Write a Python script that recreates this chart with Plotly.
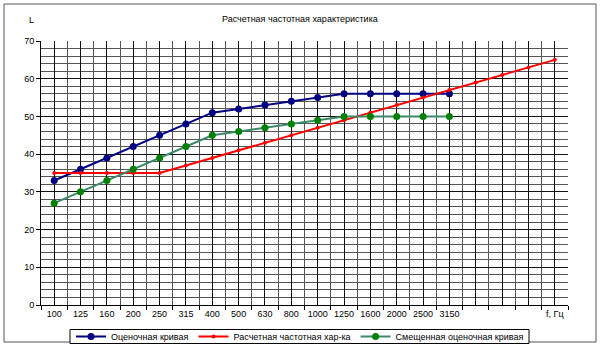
import plotly.graph_objects as go

categories = ["100", "125", "160", "200", "250", "315", "400", "500", "630", "800",
              "1000", "1250", "1600", "2000", "2500", "3150", "", "", "", "f, Гц"]
blue_vals = [33, 36, 39, 42, 45, 48, 51, 52, 53, 54, 55, 56, 56, 56, 56, 56]
red_vals = [35, 35, 35, 35, 35, 37, 39, 41, 43, 45, 47, 49, 51, 53, 55, 57, 59, 61, 63, 65]
green_vals = [27, 30, 33, 36, 39, 42, 45, 46, 47, 48, 49, 50, 50, 50, 50, 50]
names = ["Оценочная кривая", "Расчетная частотная хар-ка", "Смещенная оценочная кривая"]
title = "Расчетная частотная характеристика"

FONT = "Liberation Sans, Arial, sans-serif"
idx = list(range(len(categories)))

fig = go.Figure()
fig.add_trace(go.Scatter(x=idx[:len(blue_vals)], y=blue_vals, name=names[0], mode="lines+markers",
                         line=dict(color="#000080", width=2), marker=dict(color="#000080", size=7)))
fig.add_trace(go.Scatter(x=idx[:len(red_vals)], y=red_vals, name=names[1], mode="lines+markers",
                         line=dict(color="#FF0000", width=2), marker=dict(color="#FF0000", size=4)))
fig.add_trace(go.Scatter(x=idx[:len(green_vals)], y=green_vals, name=names[2], mode="lines+markers",
                         line=dict(color="#3a8a6a", width=2), marker=dict(color="#008000", size=7)))

L, R, T, B = 41, 32, 41, 44
W, H = 600, 349
pw, ph = W - L - R, H - T - B

def px(x):
    return (x - L) / pw

def py(y):
    return (H - B - y) / ph

fig.update_layout(
    width=W, height=H,
    margin=dict(l=L, r=R, t=T, b=B, pad=0, autoexpand=False),
    paper_bgcolor="white", plot_bgcolor="white",
    font=dict(family=FONT, size=9, color="#000000"),
    showlegend=True,
    legend=dict(orientation="h", x=0.5, xref="container", xanchor="center",
                y=1 - 336.5 / H, yref="container", yanchor="middle",
                borderwidth=0, font=dict(size=9, family=FONT),
                itemwidth=30, tracegroupgap=0, traceorder="normal",
                bgcolor="rgba(0,0,0,0)"),
    annotations=[
        dict(text=title, x=px(300), y=py(19), xref="paper", yref="paper", showarrow=False,
             xanchor="center", yanchor="middle", font=dict(size=9, family=FONT)),
        dict(text="L", x=px(31), y=py(20), xref="paper", yref="paper", showarrow=False,
             xanchor="center", yanchor="middle", font=dict(size=9, family=FONT)),
    ],
    shapes=[
        dict(type="rect", xref="paper", yref="paper", x0=px(4), x1=px(596), y0=py(342), y1=py(4),
             line=dict(color="#555555", width=1), layer="below"),
        dict(type="rect", xref="paper", yref="paper", x0=px(70), x1=px(529), y0=py(343.5), y1=py(329.5),
             line=dict(color="#000000", width=1), fillcolor="white", layer="below"),
    ],
)

fig.update_xaxes(
    range=[-0.5, len(categories) - 0.5],
    tickmode="array", tickvals=idx, ticktext=categories,
    ticks="", showgrid=True, gridcolor="#111111", gridwidth=1,
    showline=True, linecolor="#000000", linewidth=1, zeroline=False,
    tickfont=dict(size=9, family=FONT, color="#000000"),
    minor=dict(tickmode="linear", tick0=-0.5, dtick=1, showgrid=True, gridcolor="#555555",
               gridwidth=1, ticks="outside", ticklen=4, tickcolor="#000000"),
    fixedrange=True, automargin=False,
)
fig.update_yaxes(
    range=[0, 70], tickmode="linear", tick0=0, dtick=10,
    ticks="outside", ticklen=4, tickcolor="#000000",
    showgrid=True, gridcolor="#111111", gridwidth=1,
    showline=True, linecolor="#000000", linewidth=1, zeroline=False,
    tickfont=dict(size=9, family=FONT, color="#000000"),
    minor=dict(tickmode="linear", tick0=0, dtick=2, showgrid=True, gridcolor="#555555", gridwidth=1),
    fixedrange=True, automargin=False,
)

fig.write_html("out.html")
